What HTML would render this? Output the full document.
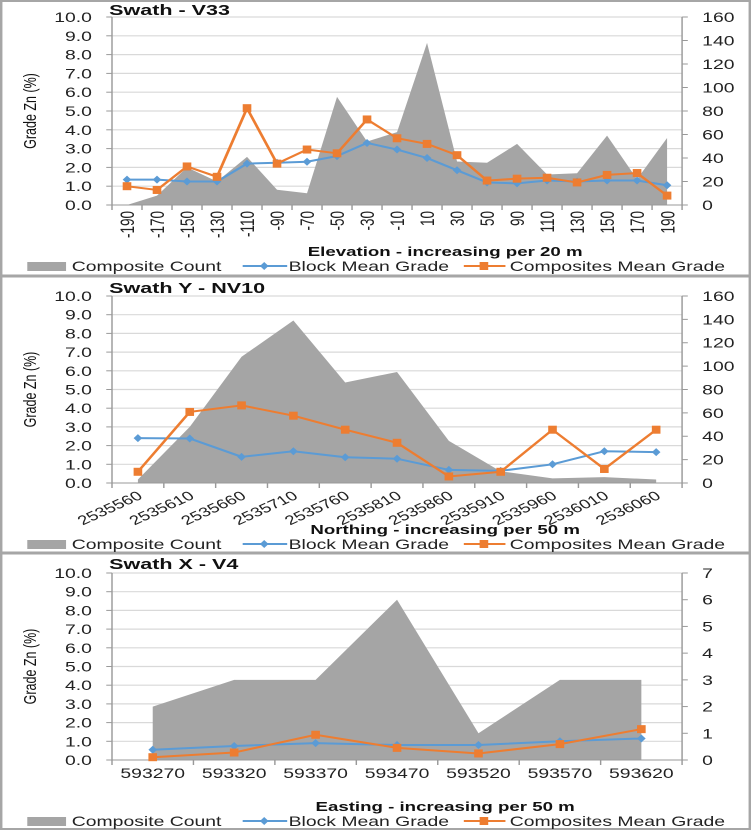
<!DOCTYPE html>
<html><head><meta charset="utf-8">
<style>
body{margin:0;background:#fff;width:751px;height:831px;overflow:hidden;font-family:"Liberation Sans",sans-serif}
svg text{font-family:"Liberation Sans",sans-serif}
</style></head>
<body>
<svg id="svg" width="751" height="831" viewBox="0 0 523 831" preserveAspectRatio="none" xmlns="http://www.w3.org/2000/svg">
<rect x="0" y="0" width="523" height="831" fill="#fff"/>
<rect x="0.7" y="1" width="521.6" height="828" fill="none" stroke="#a6a6a6" stroke-width="2"/>
<line x1="0" y1="276" x2="523" y2="276" stroke="#a6a6a6" stroke-width="3"/>
<line x1="0" y1="553" x2="523" y2="553" stroke="#a6a6a6" stroke-width="3"/>
</svg>
<script>
const cats1 = ["-190","-170","-150","-130","-110","-90","-70","-50","-30","-10","10","30","50","90","110","130","150","170","190"];
const count1 = [0,8,32,20,41,13,10,92,54,62,138,37,36,52,26,27,59,22,57];
const block1 = [1.35,1.35,1.25,1.25,2.2,2.25,2.3,2.6,3.3,2.95,2.5,1.85,1.2,1.15,1.3,1.25,1.3,1.3,1.05];
const comp1 = [1.0,0.8,2.05,1.5,5.15,2.2,2.95,2.75,4.55,3.55,3.25,2.65,1.3,1.4,1.45,1.2,1.6,1.7,0.5];
const rticks1 = [0,20,40,60,80,100,120,140,160];

const cats2 = ["2535560","2535610","2535660","2535710","2535760","2535810","2535860","2535910","2535960","2536010","2536060"];
const count2 = [3,48,108,139,86,95,36,10,4,5,3];
const block2 = [2.4,2.38,1.4,1.7,1.38,1.3,0.7,0.65,1.0,1.7,1.65];
const comp2 = [0.6,3.8,4.15,3.6,2.85,2.15,0.35,0.6,2.85,0.75,2.85];
const rticks2 = [0,20,40,60,80,100,120,140,160];

const cats3 = ["593270","593320","593370","593470","593520","593570","593620"];
const count3 = [2,3,3,6,1,3,3];
const block3 = [0.55,0.75,0.9,0.8,0.8,1.0,1.15];
const comp3 = [0.15,0.4,1.35,0.65,0.35,0.85,1.65];
const rticks3 = [0,1,2,3,4,5,6,7];

const lticks = [0,1,2,3,4,5,6,7,8,9,10];
const svg = document.getElementById('svg');
const NS = "http://www.w3.org/2000/svg";
function mk(tag, attrs, parent){const e=document.createElementNS(NS,tag);for(const k in attrs)e.setAttribute(k,attrs[k]);(parent||svg).appendChild(e);return e;}

function chart(o){
  const g = mk('g',{});
  
  
  const L=78,R=475,T=o.top,B=o.bottom;
  const n=o.cats.length, bw=(R-L)/n;
  const xc=i=>L+bw*(i+0.5);
  const yl=v=>B-(v/10)*(B-T);
  const rmax=o.rticks[o.rticks.length-1];
  const yr=v=>B-(v/rmax)*(B-T);
  lticks.forEach(t=>{ if(t>0){const l=mk('line',{x1:L,x2:R,y1:yl(t),y2:yl(t),stroke:'#d9d9d9','stroke-width':1.2},g);
    
    }
    const tx=mk('text',{x:64,y:yl(t)+5,'text-anchor':'end','font-size':13.5,fill:'#222'},g);tx.textContent=t.toFixed(1);
    
    
    mk('line',{x1:L-4,x2:L,y1:yl(t),y2:yl(t),stroke:'#999'},g);
  });
  o.rticks.forEach(t=>{
    const tx=mk('text',{x:489,y:yr(t)+5,'font-size':13.5,fill:'#222'},g);tx.textContent=t;
    
    
    mk('line',{x1:R,x2:R+4,y1:yr(t),y2:yr(t),stroke:'#999'},g);
  });
  let d=`M${xc(0)},${B}`;
  o.count.forEach((v,i)=>{d+=` L${xc(i)},${yr(v)}`;});
  d+=` L${xc(n-1)},${B} Z`;
  const a=mk('path',{d:d,fill:'#a5a5a5'},g);
  
  
  mk('line',{x1:L,x2:L,y1:T,y2:B,stroke:'#999'},g);
  mk('line',{x1:R,x2:R,y1:T,y2:B,stroke:'#999'},g);
  mk('line',{x1:L,x2:R,y1:B,y2:B,stroke:'#999'},g);
  for(let i=0;i<=n;i++) mk('line',{x1:L+bw*i,x2:L+bw*i,y1:B,y2:B+5,stroke:'#999'},g);
  o.cats.forEach((c,i)=>{
    let tx;
    if(o.rot===-90){tx=mk('text',{x:0,y:0,'text-anchor':'end','font-size':13.5,fill:'#222',transform:`translate(${xc(i)+5},${B+6}) rotate(-90)`},g);}
    else if(o.rot===-45){tx=mk('text',{x:0,y:0,'text-anchor':'end','font-size':13,fill:'#222',transform:`translate(${xc(i)+4},${B+15}) rotate(-33)`},g);}
    else {tx=mk('text',{x:xc(i),y:B+18,'text-anchor':'middle','font-size':13.5,fill:'#222'},g);}
    tx.textContent=c;
    
    
  });
  const line=(vals,col,name,marker)=>{
    const pl=mk('polyline',{points:vals.map((v,i)=>`${xc(i)},${yl(v)}`).join(' '),fill:'none',stroke:col,'stroke-width':2},g);
    
    
    vals.forEach((v,i)=>{
      let m;
      if(marker==='sq') m=mk('rect',{x:xc(i)-3,y:yl(v)-4,width:6,height:8,fill:col},g);
      else m=mk('path',{d:`M${xc(i)},${yl(v)-4} L${xc(i)+3},${yl(v)} L${xc(i)},${yl(v)+4} L${xc(i)-3},${yl(v)} Z`,fill:col},g);
      
      
    });
  };
  line(o.block,'#5b9bd5','block-mean-grade','dia');
  line(o.comp,'#ed7d31','composites-mean-grade','sq');
  const t=mk('text',{x:76,y:o.titleY,'font-size':15,'font-weight':'bold',fill:'#111'},g);t.textContent=o.title;
  
  
  const yt=mk('text',{x:0,y:0,'text-anchor':'middle','font-size':12.5,fill:'#111',transform:`translate(25,${(T+B)/2}) rotate(-90)`},g);yt.textContent='Grade Zn (%)';
  
  
  const xt=mk('text',{x:310,y:o.xtitleY,'text-anchor':'middle','font-size':13,'font-weight':'bold',fill:'#111'},g);xt.textContent=o.xtitle;
  
  
  const ly=o.legendY;
  const lg=mk('g',{},g);
  
  
  mk('rect',{x:19,y:ly-4,width:27,height:9,fill:'#a5a5a5'},lg);
  let tx=mk('text',{x:50,y:ly+5,'font-size':13.5,fill:'#222'},lg);tx.textContent='Composite Count';
  mk('line',{x1:169,x2:200,y1:ly,y2:ly,stroke:'#5b9bd5','stroke-width':2},lg);
  mk('path',{d:`M184,${ly-4} L187,${ly} L184,${ly+4} L181,${ly} Z`,fill:'#5b9bd5'},lg);
  tx=mk('text',{x:201,y:ly+5,'font-size':13.5,fill:'#222'},lg);tx.textContent='Block Mean Grade';
  mk('line',{x1:323,x2:352,y1:ly,y2:ly,stroke:'#ed7d31','stroke-width':2},lg);
  mk('rect',{x:334,y:ly-4,width:6,height:8,fill:'#ed7d31'},lg);
  tx=mk('text',{x:355,y:ly+5,'font-size':13.5,fill:'#222'},lg);tx.textContent='Composites Mean Grade';
}
chart({name:'swath-v33-chart',title:'Swath - V33',top:17,bottom:205,cats:cats1,count:count1,block:block1,comp:comp1,rticks:rticks1,rot:-90,titleY:15,xtitle:'Elevation - increasing per 20 m',xtitleY:256,legendY:266});
chart({name:'swath-nv10-chart',title:'Swath Y - NV10',top:296,bottom:483,cats:cats2,count:count2,block:block2,comp:comp2,rticks:rticks2,rot:-45,titleY:293,xtitle:'Northing - increasing per 50 m',xtitleY:534,legendY:544});
chart({name:'swath-v4-chart',title:'Swath X - V4',top:573,bottom:760,cats:cats3,count:count3,block:block3,comp:comp3,rticks:rticks3,rot:0,titleY:569,xtitle:'Easting - increasing per 50 m',xtitleY:811,legendY:821});
</script>
</body></html>
